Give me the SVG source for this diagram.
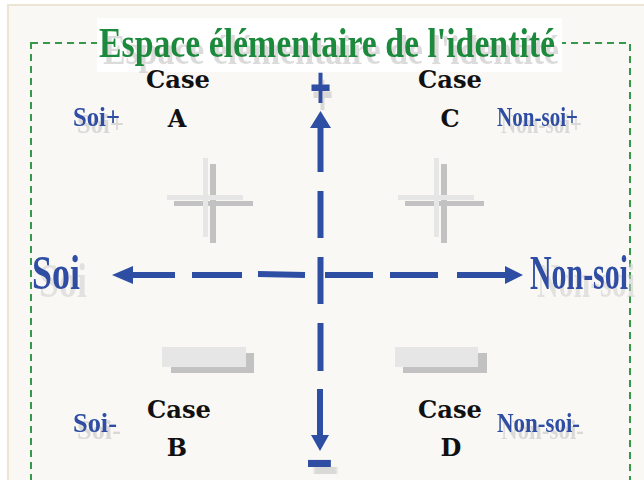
<svg xmlns="http://www.w3.org/2000/svg" width="644" height="480" viewBox="0 0 644 480">
<defs>
<style>
.title{font-family:"Liberation Serif",serif;font-weight:bold;font-size:42px;fill:#1f8a3c}
.case{font-family:"DejaVu Serif",serif;font-weight:bold;font-size:24px;fill:#111}
.lbl{font-family:"Liberation Serif",serif;font-weight:bold;font-size:27px;fill:#2d4ea3}
.big{font-family:"Liberation Serif",serif;font-weight:bold;font-size:48px;fill:#2d4ea3}
.sign{font-family:"Liberation Sans",sans-serif;font-weight:bold;fill:#2d4ea3}
.ax{stroke:#2d4ea3;stroke-width:6;fill:none}
.hd{fill:#2d4ea3}
.lt{fill:#e6e6e6}
.dk{fill:#c2c2c2}
</style>
<filter id="sh" x="-10%" y="-20%" width="130%" height="160%">
<feOffset in="SourceAlpha" dx="4" dy="7" result="o"/>
<feGaussianBlur in="o" stdDeviation="0.6" result="b"/>
<feFlood flood-color="#c4c4c4" flood-opacity="0.6"/>
<feComposite in2="b" operator="in" result="s"/>
<feMerge><feMergeNode in="s"/><feMergeNode in="SourceGraphic"/></feMerge>
</filter>
<filter id="shb" x="-10%" y="-20%" width="130%" height="160%">
<feOffset in="SourceAlpha" dx="7" dy="8" result="o"/>
<feGaussianBlur in="o" stdDeviation="0.6" result="b"/>
<feFlood flood-color="#cfcfcf" flood-opacity="0.55"/>
<feComposite in2="b" operator="in" result="s"/>
<feMerge><feMergeNode in="s"/><feMergeNode in="SourceGraphic"/></feMerge>
</filter>
</defs>
<rect x="0" y="0" width="644" height="480" fill="#ffffff"/>
<rect x="8" y="5" width="650" height="490" fill="#f9f8f5" stroke="#eee4d6" stroke-width="2"/>
<rect x="31" y="43" width="599" height="460" fill="none" stroke="#35994a" stroke-width="2" stroke-dasharray="7 5"/>

<g id="title">
<rect x="97" y="18" width="465" height="54" fill="#ffffff"/>
<text class="title" x="99" y="57" textLength="456" lengthAdjust="spacingAndGlyphs" filter="url(#sh)">Espace élémentaire de l'identité</text>
</g>

<g id="symbols">
<g id="plus-left">
<rect class="dk" x="210" y="164" width="6" height="79"/>
<rect class="dk" x="174" y="201" width="79" height="5"/>
<rect class="lt" x="203" y="158" width="5" height="79"/>
<rect class="lt" x="167" y="195" width="76" height="5"/>
</g>
<g id="plus-right">
<rect class="dk" x="441" y="164" width="6" height="79"/>
<rect class="dk" x="405" y="201" width="79" height="5"/>
<rect class="lt" x="434" y="158" width="5" height="79"/>
<rect class="lt" x="398" y="195" width="76" height="5"/>
</g>
<g id="minus-left">
<rect class="dk" x="171" y="353" width="83" height="20"/>
<rect class="lt" x="162" y="347" width="84" height="20"/>
</g>
<g id="minus-right">
<rect class="dk" x="403" y="353" width="84" height="20"/>
<rect class="lt" x="395" y="347" width="83" height="20"/>
</g>
</g>

<g id="connectors">
<g id="axis-vertical">
<polygon class="hd" points="320.5,111 331,128 310,128"/>
<line class="ax" x1="320.5" y1="127" x2="320.5" y2="172"/>
<line class="ax" x1="320.5" y1="191" x2="320.5" y2="238"/>
<line class="ax" x1="320.5" y1="257" x2="320.5" y2="304"/>
<line class="ax" x1="320.5" y1="323" x2="320.5" y2="371"/>
<line class="ax" x1="320" y1="389" x2="320" y2="436"/>
<polygon class="hd" points="311,435 329,435 320,451"/>
</g>
<g id="axis-horizontal">
<polygon class="hd" points="112,275 133,266 133,284"/>
<line class="ax" x1="132" y1="275" x2="175" y2="275"/>
<line class="ax" x1="192" y1="275" x2="242" y2="275"/>
<line class="ax" x1="258" y1="274" x2="305" y2="275"/>
<line class="ax" x1="325" y1="275" x2="373" y2="275"/>
<line class="ax" x1="390" y1="275" x2="438" y2="275"/>
<line class="ax" x1="457" y1="275" x2="506" y2="275"/>
<polygon class="hd" points="523,275 505,266 505,284"/>
</g>
</g>

<g id="sign-plus">
<text class="sign" font-size="60" text-anchor="middle" transform="translate(320.5,108) scale(0.6,1)" filter="url(#sh)">+</text>
</g>
<g id="sign-minus">
<text class="sign" font-size="60" text-anchor="middle" transform="translate(319.5,479) scale(1.5,1)" filter="url(#sh)">-</text>
</g>

<g id="axis-soi">
<text class="big" x="32" y="289" textLength="48" lengthAdjust="spacingAndGlyphs" filter="url(#shb)">Soi</text>
</g>
<g id="axis-nonsoi">
<text class="big" x="530" y="289" textLength="98" lengthAdjust="spacingAndGlyphs" filter="url(#shb)">Non-soi</text>
</g>

<g id="case-a">
<text class="case" x="178" y="88" text-anchor="middle" textLength="64" lengthAdjust="spacingAndGlyphs">Case</text>
<text class="case" x="177" y="127" text-anchor="middle">A</text>
<text class="lbl" x="73" y="126" textLength="47" lengthAdjust="spacingAndGlyphs" filter="url(#sh)">Soi+</text>
</g>
<g id="case-c">
<text class="case" x="450" y="88" text-anchor="middle" textLength="64" lengthAdjust="spacingAndGlyphs">Case</text>
<text class="case" x="450" y="127" text-anchor="middle">C</text>
<text class="lbl" x="497" y="126" textLength="81" lengthAdjust="spacingAndGlyphs" filter="url(#sh)">Non-soi+</text>
</g>
<g id="case-b">
<text class="case" x="179" y="418" text-anchor="middle" textLength="64" lengthAdjust="spacingAndGlyphs">Case</text>
<text class="case" x="177" y="456" text-anchor="middle">B</text>
<text class="lbl" x="73" y="432" textLength="44" lengthAdjust="spacingAndGlyphs" filter="url(#sh)">Soi-</text>
</g>
<g id="case-d">
<text class="case" x="450" y="418" text-anchor="middle" textLength="64" lengthAdjust="spacingAndGlyphs">Case</text>
<text class="case" x="451" y="456" text-anchor="middle">D</text>
<text class="lbl" x="497" y="432" textLength="83" lengthAdjust="spacingAndGlyphs" filter="url(#sh)">Non-soi-</text>
</g>
</svg>
